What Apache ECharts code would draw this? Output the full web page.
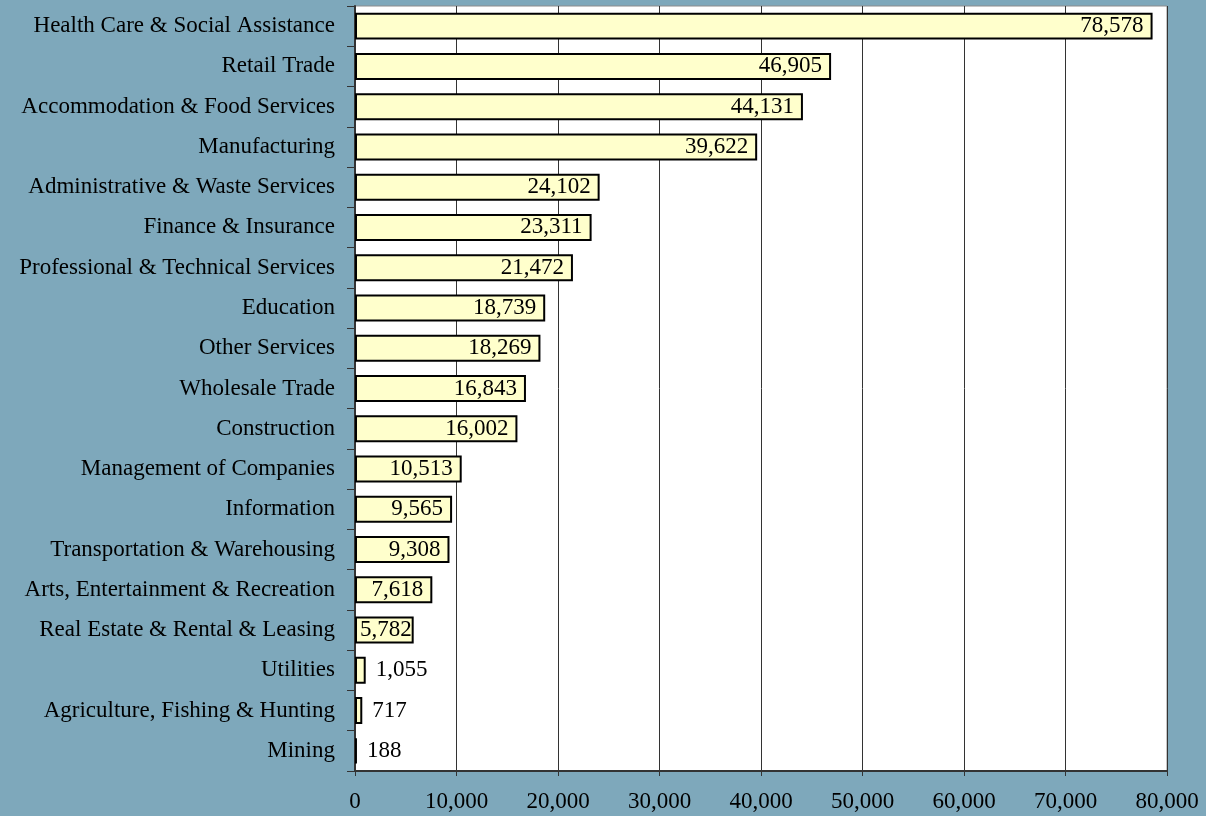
<!DOCTYPE html>
<html>
<head>
<meta charset="utf-8">
<script src="https://cdn.jsdelivr.net/npm/echarts@6/dist/echarts.min.js"></script>
<style>
  html, body { margin: 0; padding: 0; background: #7ea8bb; }
  #chart { width: 1206px; height: 816px; }
</style>
</head>
<body>
<div id="chart"></div>
<script>
var industries = [
    'Health Care & Social Assistance', 'Retail Trade', 'Accommodation & Food Services',
    'Manufacturing', 'Administrative & Waste Services', 'Finance & Insurance',
    'Professional & Technical Services', 'Education', 'Other Services', 'Wholesale Trade',
    'Construction', 'Management of Companies', 'Information', 'Transportation & Warehousing',
    'Arts, Entertainment & Recreation', 'Real Estate & Rental & Leasing', 'Utilities',
    'Agriculture, Fishing & Hunting', 'Mining'
];
var employees = [78578, 46905, 44131, 39622, 24102, 23311, 21472, 18739, 18269, 16843,
    16002, 10513, 9565, 9308, 7618, 5782, 1055, 717, 188];
var xTicks = [0, 10000, 20000, 30000, 40000, 50000, 60000, 70000, 80000];

var fmt = function (v) { return v.toLocaleString('en-US'); };

// small bars get their label outside, like the original
var barData = employees.map(function (v) {
    var lbl;
    if (v < 5000) lbl = { position: 'right', distance: 10 };
    else if (v < 7000) lbl = { position: 'insideRight', distance: 2 };
    else lbl = { position: 'insideRight', distance: 9 };
    return { value: v, label: lbl };
});

var chart = echarts.init(document.getElementById('chart'), null, {renderer: 'canvas'});
chart.setOption({
    backgroundColor: '#7ea8bb',
    textStyle: { fontFamily: 'Liberation Serif' },
    grid: { left: 355, right: 39, top: 6, bottom: 45, show: true,
            backgroundColor: '#ffffff', borderColor: '#8c8c8c', borderWidth: 1 },
    xAxis: {
        type: 'value', min: 0, max: 80000, interval: 10000,
        axisLine: { show: true, lineStyle: { color: '#333', width: 2 } },
        axisTick: { show: true, length: 5, lineStyle: { color: '#333' } },
        splitLine: { show: true, lineStyle: { color: '#333', width: 1 } },
        axisLabel: { color: '#000', fontSize: 23, margin: 19,
                     fontFamily: 'Liberation Serif',
                     formatter: function (v) { return xTicks.indexOf(v) >= 0 ? fmt(v) : ''; } }
    },
    yAxis: {
        type: 'category', data: industries, inverse: true,
        axisLine: { show: true, lineStyle: { color: '#333', width: 2 } },
        axisTick: { show: true, length: 8, lineStyle: { color: '#333' } },
        axisLabel: { color: '#000', fontSize: 23, margin: 20, fontFamily: 'Liberation Serif' }
    },
    series: [{
        type: 'bar',
        data: barData,
        barCategoryGap: '33%',
        itemStyle: { color: '#ffffcc', borderColor: '#000', borderWidth: 2 },
        label: { show: true, color: '#000', fontSize: 23, fontFamily: 'Liberation Serif',
                 formatter: function (p) { return fmt(p.value); } },
        animation: false
    }]
});
</script>
</body>
</html>
